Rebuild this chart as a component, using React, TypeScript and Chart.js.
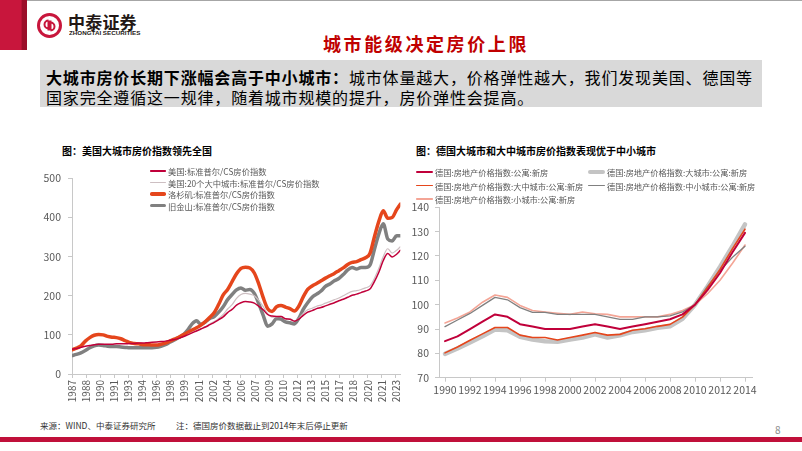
import React, { useEffect, useRef } from 'react';
import { Chart, registerables } from 'chart.js';
Chart.register(...registerables);

const FONT_CJK = "'Noto Sans CJK SC', 'Noto Sans', sans-serif";
const FONT_TICK = "'Liberation Sans Narrow', 'Noto Sans CJK SC', sans-serif";

// ---------- US chart data (semi-annual samples) ----------
const usDates = [
  '1987-01','1987-07','1988-01','1988-07','1989-01','1989-07','1990-01','1990-07','1991-01','1991-07',
  '1992-01','1992-07','1993-01','1993-07','1994-01','1994-07','1995-01','1995-07','1996-01','1996-07',
  '1997-01','1997-07','1998-01','1998-07','1999-01','1999-07','2000-01','2000-07','2001-01','2001-07',
  '2002-01','2002-07','2003-01','2003-07','2004-01','2004-07','2005-01','2005-07','2006-01','2006-07',
  '2007-01','2007-07','2008-01','2008-07','2009-01','2009-07','2010-01','2010-07','2011-01','2011-07',
  '2012-01','2012-07','2013-01','2013-07','2014-01','2014-07','2015-01','2015-07','2016-01','2016-07',
  '2017-01','2017-07','2018-01','2018-07','2019-01','2019-07','2020-01','2020-07','2021-01','2021-07',
  '2022-01','2022-07','2023-01','2023-07','2023-12'
];
const usNational = [
  63, 65, 68, 71, 73, 75, 76, 76, 76, 76,
  77, 77, 77, 78, 78, 79, 79, 80, 81, 82,
  83, 84, 86, 88, 91, 95, 100, 105, 110, 115,
  120, 126, 132, 139, 146, 157, 165, 176, 182, 185,
  184, 181, 173, 164, 152, 148, 147, 147, 141, 140,
  135, 140, 150, 158, 162, 167, 170, 174, 178, 182,
  187, 191, 196, 201, 204, 208, 212, 217, 236, 260,
  290, 308, 299, 306, 316
];
const us20City = [
  null, null, null, null, null, null, null, null, null, null,
  null, null, null, null, null, null, null, null, null, null,
  null, null, null, null, null, null, 100, 106, 111, 116,
  121, 128, 134, 142, 152, 166, 177, 193, 203, 206,
  204, 200, 188, 172, 154, 145, 146, 147, 141, 141,
  136, 142, 155, 164, 168, 173, 176, 181, 185, 190,
  194, 200, 206, 211, 213, 216, 220, 225, 244, 270,
  300, 320, 309, 316, 325
];
const laIndex = [
  62, 66, 72, 84, 93, 99, 101, 100, 96, 94,
  93, 90, 85, 80, 78, 77, 75, 75, 74, 74,
  76, 79, 84, 89, 94, 100, 106, 112, 118, 125,
  134, 145, 157, 178, 202, 216, 236, 256, 270, 273,
  271, 258, 230, 195, 167, 160, 172, 175, 171, 167,
  161, 173, 197, 216, 225, 231, 238, 245, 251, 257,
  264, 271, 280, 285, 287, 292, 297, 308, 350, 390,
  417, 398, 400, 420, 434
];
const sfIndex = [
  47, 50, 54, 60, 67, 72, 74, 73, 71, 70,
  70, 69, 68, 67, 67, 67, 67, 67, 67, 68,
  71, 75, 81, 87, 93, 100, 112, 128, 136, 127,
  133, 142, 147, 158, 172, 190, 203, 215, 220, 214,
  216, 206, 180, 150, 122, 128, 142, 140, 133, 131,
  128, 142, 165, 182, 196, 204, 212, 224, 230, 238,
  244, 254, 266, 272, 268, 272, 272, 278, 318, 358,
  384, 345, 340, 353, 353
];
const usTickMonths = [
  '1987-01','1988-08','1990-03','1991-10','1993-05','1994-12','1996-07','1998-02','1999-09','2001-04',
  '2002-11','2004-06','2006-01','2007-08','2009-03','2010-10','2012-05','2013-12','2015-07','2017-02',
  '2018-09','2020-04','2021-11','2023-06'
];
const usYTicks = [0, 100, 200, 300, 400, 500];
const usLabels = [
  '美国:标准普尔/CS房价指数',
  '美国:20个大中城市:标准普尔/CS房价指数',
  '洛杉矶:标准普尔/CS房价指数',
  '旧金山:标准普尔/CS房价指数'
];

// ---------- German chart data (annual) ----------
const deYears = [1990,1991,1992,1993,1994,1995,1996,1997,1998,1999,2000,2001,2002,2003,2004,2005,2006,2007,2008,2009,2010,2011,2012,2013,2014];
const deAll = [85, 87, 90, 93, 96, 95, 92, 91, 90, 90, 90, 91, 92, 91, 90, 91, 92, 93, 94, 96, 100, 106, 113, 121.5, 129.5];
const deBig = [79.8, 82, 84.5, 87, 89.8, 89.5, 86.8, 85.7, 85, 84.8, 85.7, 86.5, 87.8, 86.5, 87.4, 88.8, 89.5, 90.5, 91.1, 94.2, 100, 107.5, 115.5, 124, 133];
const deBigMid = [80.2, 82.6, 85.4, 88, 90.6, 90.6, 87.5, 86.5, 86.5, 85.5, 86.5, 87.5, 88.6, 87.5, 87.8, 89.5, 90.1, 91.1, 91.9, 94.9, 100, 107, 114.5, 123, 131];
const deMidSmall = [91, 93.7, 96.4, 99.7, 103, 102, 98.8, 96.8, 96.8, 96, 96, 96, 96, 95, 94, 94, 95, 95, 95.4, 97, 100, 107.5, 114, 119.5, 124];
const deSmall = [92.5, 94.5, 97, 101, 104, 103, 99.7, 97.6, 97, 96.5, 96, 97, 96.3, 96, 95, 95, 95, 95, 96, 97.6, 100, 104.5, 110, 117, 124.5];
const deTickYears = [1990, 1992, 1994, 1996, 1998, 2000, 2002, 2004, 2006, 2008, 2010, 2012, 2014];
const deYTicks = [70, 80, 90, 100, 110, 120, 130, 140];
const deLabels = [
  '德国:房地产价格指数:公寓:新房',
  '德国:房地产价格指数:大城市:公寓:新房',
  '德国:房地产价格指数:大中城市:公寓:新房',
  '德国:房地产价格指数:中小城市:公寓:新房',
  '德国:房地产价格指数:小城市:公寓:新房'
];

const C_CRIMSON = '#C0003A';
const C_LIGHT = '#CDBFC2';
const C_ORANGE = '#E5461C';
const C_GRAY = '#808080';
const C_LGRAY = '#C4C4C4';
const C_PINK = '#F4A596';
const AXIS = '#C8C8C8';
const TICK_TXT = '#595959';

function toYear(s: string) {
  const [y, m] = s.split('-').map(Number);
  return y + (m - 1) / 12;
}

function UsChart() {
  const ref = useRef<HTMLCanvasElement>(null);
  useEffect(() => {
    const mk = (vals: (number | null)[]) => usDates.map((d, i) => ({ x: toYear(d), y: vals[i] }));
    const chart = new Chart(ref.current!, {
      type: 'line',
      data: {
        datasets: [
          { label: usLabels[0], data: mk(usNational), borderColor: C_CRIMSON, borderWidth: 1.5 },
          { label: usLabels[1], data: mk(us20City), borderColor: C_LIGHT, borderWidth: 1.2 },
          { label: usLabels[2], data: mk(laIndex), borderColor: C_ORANGE, borderWidth: 3.5 },
          { label: usLabels[3], data: mk(sfIndex), borderColor: C_GRAY, borderWidth: 3.5 },
        ] as any,
      },
      options: {
        animation: false,
        responsive: false,
        devicePixelRatio: 1,
        elements: {
          point: { radius: 0 },
          line: { cubicInterpolationMode: 'monotone', borderCapStyle: 'round', borderJoinStyle: 'round' },
        },
        layout: { padding: { top: 7.3, right: 9, left: 0, bottom: 0 } },
        plugins: { legend: { display: false }, tooltip: { enabled: false } },
        scales: {
          x: {
            type: 'linear',
            min: toYear(usDates[0]),
            max: toYear(usDates[usDates.length - 1]),
            afterBuildTicks: (s: any) => { s.ticks = usTickMonths.map((m) => ({ value: toYear(m) })); },
            afterFit: (s: any) => { s.height = 31; },
            ticks: {
              autoSkip: false, minRotation: 90, maxRotation: 90, padding: 2,
              color: TICK_TXT, font: { family: FONT_TICK, size: 10 },
              callback: (_v: any, i: number) => usTickMonths[i].slice(0, 4),
            },
            grid: { drawOnChartArea: false, drawTicks: true, tickLength: 4, color: AXIS },
            border: { color: AXIS },
          },
          y: {
            type: 'linear',
            min: 0, max: 500,
            afterBuildTicks: (s: any) => { s.ticks = usYTicks.map((v) => ({ value: v })); },
            afterFit: (s: any) => { s.width = 32; },
            ticks: {
              padding: 7, color: TICK_TXT, font: { family: FONT_TICK, size: 10.5 },
              callback: (v: any) => String(v),
            },
            grid: { drawOnChartArea: false, drawTicks: true, tickLength: 4, color: AXIS },
            border: { color: AXIS },
          },
        },
      } as any,
    });
    return () => chart.destroy();
  }, []);
  return <canvas ref={ref} width={370} height={240} style={{ position: 'absolute', left: 40, top: 165, width: 370, height: 240 }} />;
}

function DeChart() {
  const ref = useRef<HTMLCanvasElement>(null);
  useEffect(() => {
    const mk = (vals: number[]) => deYears.map((y, i) => ({ x: y, y: vals[i] }));
    const chart = new Chart(ref.current!, {
      type: 'line',
      data: {
        datasets: [
          { label: deLabels[0], data: mk(deAll), borderColor: C_CRIMSON, borderWidth: 2 },
          { label: deLabels[2], data: mk(deBigMid), borderColor: C_ORANGE, borderWidth: 1.6 },
          { label: deLabels[3], data: mk(deMidSmall), borderColor: C_GRAY, borderWidth: 1.3 },
          { label: deLabels[4], data: mk(deSmall), borderColor: C_PINK, borderWidth: 1.6 },
          { label: deLabels[1], data: mk(deBig), borderColor: C_LGRAY, borderWidth: 4.5 },
        ] as any,
      },
      options: {
        animation: false,
        responsive: false,
        devicePixelRatio: 1,
        elements: { point: { radius: 0 }, line: { tension: 0, borderCapStyle: 'round', borderJoinStyle: 'round' } },
        layout: { padding: { top: 12, right: 43, left: 0, bottom: 0 } },
        plugins: { legend: { display: false }, tooltip: { enabled: false } },
        scales: {
          x: {
            type: 'linear',
            min: 1989.52, max: 2014.56,
            afterBuildTicks: (s: any) => { s.ticks = deTickYears.map((v) => ({ value: v })); },
            afterFit: (s: any) => { s.height = 27.3; },
            ticks: {
              autoSkip: false, minRotation: 0, maxRotation: 0, padding: 2,
              color: TICK_TXT, font: { family: FONT_TICK, size: 10.5 },
              callback: (v: any) => String(v),
            },
            grid: { drawOnChartArea: false, drawTicks: true, tickLength: 4, color: AXIS },
            border: { color: AXIS },
          },
          y: {
            type: 'linear',
            min: 70, max: 140,
            afterBuildTicks: (s: any) => { s.ticks = deYTicks.map((v) => ({ value: v })); },
            afterFit: (s: any) => { s.width = 34; },
            ticks: {
              padding: 6, color: TICK_TXT, font: { family: FONT_TICK, size: 10.5 },
              callback: (v: any) => String(v),
            },
            grid: { drawOnChartArea: false, drawTicks: true, tickLength: 4, color: AXIS },
            border: { color: AXIS },
          },
        },
      } as any,
    });
    return () => chart.destroy();
  }, []);
  return <canvas ref={ref} width={390} height={210} style={{ position: 'absolute', left: 405, top: 195, width: 390, height: 210 }} />;
}

function LegendItem({ x, y, color, lw, label, len = 16, fs = 8.5 }: { x: number; y: number; color: string; lw: number; label: string; len?: number; fs?: number }) {
  return (
    <div style={{ position: 'absolute', left: x, top: y - 7, height: 14, display: 'flex', alignItems: 'center', whiteSpace: 'nowrap' }}>
      <span style={{ display: 'inline-block', width: len, height: lw, background: color, borderRadius: lw / 2, marginRight: 2 }} />
      <span style={{ fontFamily: FONT_CJK, fontSize: fs, color: TICK_TXT, lineHeight: '14px' }}>{label}</span>
    </div>
  );
}

export default function App() {
  return (
    <div style={{ position: 'fixed', left: 0, top: 0, width: 802, height: 451, background: '#fff', overflow: 'hidden', fontFamily: FONT_CJK }}>
      {/* header */}
      <div style={{ position: 'absolute', left: 0, top: 0, width: 802, height: 1, background: '#a6a6a6' }} />
      <div style={{ position: 'absolute', left: 0, top: 0, width: 27, height: 50, background: 'linear-gradient(to right, #C8163C 0%, #C8163C 78%, #9C0E2A 82%, #9C0E2A 100%)' }} />
      <svg style={{ position: 'absolute', left: 36, top: 12 }} width={27} height={27} viewBox="0 0 27 27">
        <circle cx={13.5} cy={13.5} r={11} fill="none" stroke="#C8163C" strokeWidth={3} />
        <path d="M12.5 8.5 a4 4 0 1 0 0 8 M14.5 10.5 a4 4 0 1 1 0 8 M12.5 8.5 v10 M14.5 8.5 v10" fill="none" stroke="#C8163C" strokeWidth={2} />
      </svg>
      <div style={{ position: 'absolute', left: 68, top: 12, fontSize: 17, fontWeight: 700, color: '#231815', lineHeight: '20px', letterSpacing: 0.2 }}>中泰证券</div>
      <div style={{ position: 'absolute', left: 69, top: 30, fontFamily: "'Liberation Sans', sans-serif", fontSize: 6, fontWeight: 700, color: '#231815', lineHeight: '7px', transform: 'scaleX(1.04)', transformOrigin: 'left', whiteSpace: 'nowrap' }}>ZHONGTAI SECURITIES</div>
      <div style={{ position: 'absolute', left: 323, top: 32, fontSize: 18, fontWeight: 700, color: '#C00000', lineHeight: '22px', letterSpacing: 2.6, whiteSpace: 'nowrap' }}>城市能级决定房价上限</div>

      {/* summary box */}
      <div style={{ position: 'absolute', left: 40, top: 60, width: 722, height: 47, background: '#D9D9D9' }} />
      <div style={{ position: 'absolute', left: 46, top: 67, fontSize: 16, lineHeight: '20px', letterSpacing: 0.83, color: '#000', whiteSpace: 'nowrap' }}>
        <span style={{ fontWeight: 700 }}>大城市房价长期下涨幅会高于中小城市：</span>城市体量越大，价格弹性越大，我们发现美国、德国等
      </div>
      <div style={{ position: 'absolute', left: 46, top: 87, fontSize: 16, lineHeight: '20px', letterSpacing: 0.83, color: '#000', whiteSpace: 'nowrap' }}>
        国家完全遵循这一规律，随着城市规模的提升，房价弹性会提高。
      </div>

      {/* chart titles */}
      <div style={{ position: 'absolute', left: 62, top: 144, fontSize: 10, fontWeight: 700, lineHeight: '14px', color: '#000', whiteSpace: 'nowrap' }}>图：美国大城市房价指数领先全国</div>
      <div style={{ position: 'absolute', left: 416, top: 144, fontSize: 10, fontWeight: 700, lineHeight: '14px', color: '#000', whiteSpace: 'nowrap' }}>图：德国大城市和大中城市房价指数表现优于中小城市</div>

      <UsChart />
      <DeChart />

      {/* legends */}
      <LegendItem x={150} y={171} color={C_CRIMSON} lw={1.5} label={usLabels[0]} fs={8.3} />
      <LegendItem x={150} y={182.5} color={C_LIGHT} lw={1.5} label={usLabels[1]} fs={8.3} />
      <LegendItem x={150} y={194} color={C_ORANGE} lw={3.5} label={usLabels[2]} fs={8.3} />
      <LegendItem x={150} y={205.5} color={C_GRAY} lw={3.5} label={usLabels[3]} fs={8.3} />

      <LegendItem x={416} y={172} color={C_CRIMSON} lw={2} label={deLabels[0]} len={17} fs={8.2} />
      <LegendItem x={588} y={172} color={C_LGRAY} lw={4.5} label={deLabels[1]} len={17} fs={8.2} />
      <LegendItem x={416} y={185.5} color={C_ORANGE} lw={1.6} label={deLabels[2]} len={17} fs={8.2} />
      <LegendItem x={588} y={185.5} color={C_GRAY} lw={1.3} label={deLabels[3]} len={17} fs={8.2} />
      <LegendItem x={416} y={199} color={C_PINK} lw={1.6} label={deLabels[4]} len={17} fs={8.2} />

      {/* footer */}
      <div style={{ position: 'absolute', left: 40, top: 419, fontSize: 8.5, lineHeight: '12px', color: '#333', whiteSpace: 'nowrap' }}>来源：WIND、中泰证券研究所</div>
      <div style={{ position: 'absolute', left: 176, top: 419, fontSize: 8.5, lineHeight: '12px', color: '#333', whiteSpace: 'nowrap' }}>注：德国房价数据截止到2014年末后停止更新</div>
      <div style={{ position: 'absolute', left: 775, top: 423, fontSize: 10, lineHeight: '13px', color: '#8c8c8c' }}>8</div>
      <div style={{ position: 'absolute', left: 0, top: 437, width: 802, height: 5, background: '#C0103A' }} />
    </div>
  );
}
